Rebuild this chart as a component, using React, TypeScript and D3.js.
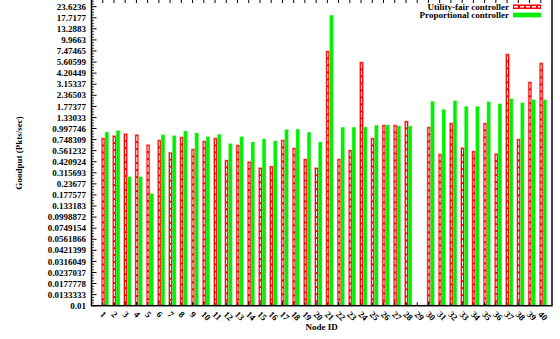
import * as d3 from "d3";

// Goodput per node, log y axis (base 4/3 ticks), clustered bars like gnuplot histogram.

const NODES = d3.range(1, 41);

// null = no bar for that node
const UTILITY_FAIR: (number | null)[] = [
  0.781, 0.83, 0.874, 0.851, 0.657, 0.742, 0.539, 0.802, 0.587, 0.723,
  0.781, 0.441, 0.652, 0.422, 0.361, 0.377, 0.742, 0.603, 0.453, 0.361,
  7.5, 0.453, 0.572, 5.63, 0.781, 1.095, 1.095, 1.215, null, 1.04,
  0.516, 1.154, 0.607, 0.557, 1.154, 0.52, 6.93, 0.761, 3.35, 5.49,
];

const PROPORTIONAL: (number | null)[] = [
  0.913, 0.945, 0.286, 0.286, 0.184, 0.851, 0.83, 0.937, 0.89, 0.808,
  0.86, 0.674, 0.808, 0.704, 0.761, 0.723, 0.97, 0.98, 0.906, 0.704,
  18.96, 1.032, 1.032, 1.04, 1.087, 1.095, 1.067, 1.067, null, 2.018,
  1.639, 2.055, 1.772, 1.772, 2.002, 1.901, 2.17, 1.951, 2.114, 2.114,
];

const Y_TICK_LABELS = [
  "0.01", "0.0133333", "0.0177778", "0.0237037", "0.0316049", "0.0421399",
  "0.0561866", "0.0749154", "0.0998872", "0.133183", "0.177577", "0.23677",
  "0.315693", "0.420924", "0.561232", "0.748309", "0.997746", "1.33033",
  "1.77377", "2.36503", "3.15337", "4.20449", "5.60599", "7.47465",
  "9.9663", "13.2883", "17.7177", "23.6236",
];

const SERIES_NAMES = ["Utility-fair controller", "Proportional controller"];

const W = 560;
const H = 339;
const LEFT = 91.5;
const RIGHT = 552;
const BOTTOM = 305.7;
const TOP = -2;
const FONT = "'Liberation Serif','DejaVu Serif',serif";
const RED = "#ff0000";
const GREEN = "#00f000";

export default function App() {
  const x = d3.scaleLinear().domain([0, 41]).range([LEFT, RIGHT]);
  const y = d3.scaleLog().domain([0.01, 23.6236]).range([BOTTOM, 6.7]);
  const step = x(1) - x(0);
  const bw = step * 0.33;

  const yTicks = Y_TICK_LABELS.map((s) => +s);
  const minor: number[] = [];
  for (let i = 0; i < yTicks.length; i++) {
    for (const f of [0.25, 0.5, 0.75]) minor.push(yTicks[i] * Math.pow(4 / 3, f));
  }

  return (
    <svg
      width={W}
      height={H}
      style={{ position: "absolute", left: 0, top: 0, background: "#fff" }}
      fontFamily={FONT}
      fontWeight="bold"
    >
      {/* bars */}
      {NODES.map((n, i) => {
        const r = UTILITY_FAIR[i];
        const g = PROPORTIONAL[i];
        const rx = x(n) - step * 0.13;
        const gx = rx + bw;
        return (
          <g key={n}>
            {r != null && (
              <g>
                <rect x={rx} y={y(r)} width={bw} height={BOTTOM - y(r)} fill={RED} stroke="#ff9a9a" strokeWidth={0.5} />
                <line
                  x1={rx + bw / 2}
                  x2={rx + bw / 2}
                  y1={y(r) + 1.5}
                  y2={BOTTOM}
                  stroke="#fff"
                  strokeWidth={1}
                  strokeDasharray="5,2"
                />
              </g>
            )}
            {g != null && (
              <rect x={gx} y={y(g)} width={bw} height={BOTTOM - y(g)} fill={GREEN} stroke="#9cf59c" strokeWidth={0.5} strokeDasharray="2,1" />
            )}
          </g>
        );
      })}

      {/* frame */}
      <rect x={LEFT} y={TOP} width={RIGHT - LEFT} height={BOTTOM - TOP} fill="none" stroke="#000" strokeWidth={1.5} />

      {/* y ticks */}
      {yTicks.map((t, i) => (
        <g key={"y" + i}>
          <line x1={LEFT} x2={LEFT + 5} y1={y(t)} y2={y(t)} stroke="#000" strokeWidth={1} />
          <text x={86} y={y(t)} dy="0.35em" textAnchor="end" fontSize={9}>
            {Y_TICK_LABELS[i]}
          </text>
        </g>
      ))}
      {minor
        .filter((m) => y(m) > 0)
        .map((m, i) => (
          <line key={"m" + i} x1={LEFT} x2={LEFT + 2.5} y1={y(m)} y2={y(m)} stroke="#000" strokeWidth={0.8} />
        ))}

      {/* x ticks */}
      {NODES.map((n) => (
        <g key={"x" + n}>
          <line x1={x(n)} x2={x(n)} y1={TOP} y2={3} stroke="#000" strokeWidth={1} />
          <line x1={x(n)} x2={x(n)} y1={BOTTOM} y2={BOTTOM - 3.5} stroke="#000" strokeWidth={1} />
          <text
            transform={`translate(${x(n) - 1},${BOTTOM + 7}) rotate(45)`}
            fontSize={9}
            dy="0.35em"
          >
            {n}
          </text>
        </g>
      ))}

      {/* axis labels */}
      <text x={(LEFT + RIGHT) / 2} y={330} textAnchor="middle" fontSize={9}>
        Node ID
      </text>
      <text transform={`translate(22,153) rotate(-90)`} textAnchor="middle" fontSize={9}>
        Goodput (Pkts/sec)
      </text>

      {/* legend */}
      <text x={509} y={6.8} dy="0.35em" textAnchor="end" fontSize={9}>
        {SERIES_NAMES[0]}
      </text>
      <rect x={513} y={4.5} width={28} height={4.5} fill={RED} />
      <line x1={514} x2={540} y1={6.75} y2={6.75} stroke="#fff" strokeWidth={1.5} strokeDasharray="4,2" />
      <text x={509} y={15.3} dy="0.35em" textAnchor="end" fontSize={9}>
        {SERIES_NAMES[1]}
      </text>
      <rect x={513} y={12.7} width={28} height={4.6} fill={GREEN} />
    </svg>
  );
}
